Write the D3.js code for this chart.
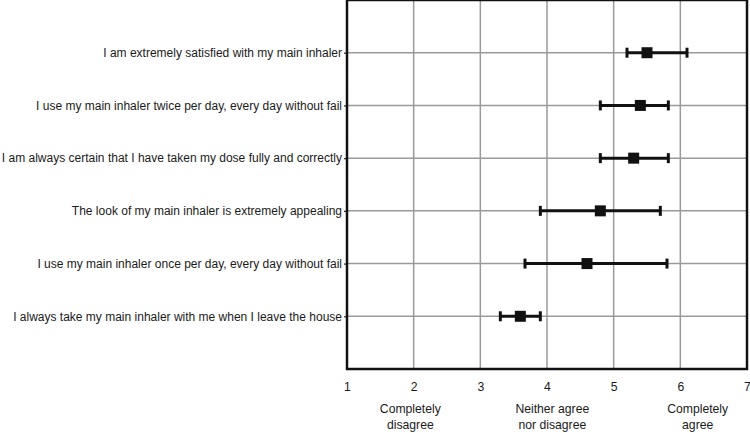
<!DOCTYPE html>
<html>
<head>
<meta charset="utf-8">
<script src="https://cdn.jsdelivr.net/npm/d3@7"></script>
<style>
  html, body { margin: 0; padding: 0; background: #fff; }
  svg { display: block; font-family: "Liberation Sans", Arial, sans-serif; }
</style>
</head>
<body>
<div id="chart"></div>
<script>
const width = 750;
const height = 433;
const margin = {top: 0, right: 3, bottom: 64, left: 347};

// statements, top to bottom
const statements = [
    "I am extremely satisfied with my main inhaler",
    "I use my main inhaler twice per day, every day without fail",
    "I am always certain that I have taken my dose fully and correctly",
    "The look of my main inhaler is extremely appealing",
    "I use my main inhaler once per day, every day without fail",
    "I always take my main inhaler with me when I leave the house"
];
const means = [5.5, 5.4, 5.3, 4.8, 4.6, 3.6];
const lower = [5.2, 4.8, 4.8, 3.9, 3.67, 3.3];
const upper = [6.1, 5.82, 5.82, 5.7, 5.8, 3.9];

const xTicks = [1, 2, 3, 4, 5, 6, 7];
const anchorLabels = [
    {value: 1.95, lines: ["Completely", "disagree"]},
    {value: 4.08, lines: ["Neither agree", "nor disagree"]},
    {value: 6.26, lines: ["Completely", "agree"]}
];

const rows = statements.map((s, i) => ({name: s, mean: means[i], lo: lower[i], hi: upper[i]}));

const x = d3.scaleLinear()
    .domain([1, 7])
    .range([margin.left, width - margin.right]);

const y = d3.scalePoint()
    .domain(statements)
    .range([margin.top, height - margin.bottom])
    .padding(1);

const svg = d3.select("#chart")
    .append("svg")
    .attr("width", width)
    .attr("height", height);

const bottom = height - margin.bottom;

// grid
svg.append("g")
    .attr("stroke", "#9a9a9a")
    .attr("stroke-width", 1.5)
    .selectAll("line")
    .data(xTicks.slice(1, -1))
    .join("line")
    .attr("x1", d => x(d)).attr("x2", d => x(d))
    .attr("y1", margin.top).attr("y2", bottom);

svg.append("g")
    .attr("stroke", "#9a9a9a")
    .attr("stroke-width", 1.5)
    .selectAll("line")
    .data(statements)
    .join("line")
    .attr("x1", margin.left).attr("x2", width - margin.right)
    .attr("y1", d => y(d)).attr("y2", d => y(d));

// y axis
svg.append("g")
    .attr("transform", `translate(${margin.left},0)`)
    .call(d3.axisLeft(y).tickSize(3).tickPadding(2))
    .call(g => g.select(".domain").remove())
    .call(g => g.selectAll(".tick line").attr("stroke", "#222").attr("stroke-width", 1.2))
    .call(g => g.selectAll(".tick text")
        .attr("font-size", 12)
        .attr("font-family", "Liberation Sans, Arial, sans-serif")
        .attr("fill", "#1a1a1a"));

// x axis
svg.append("g")
    .attr("transform", `translate(0,${bottom})`)
    .call(d3.axisBottom(x).tickValues(xTicks).tickFormat(d3.format("d")).tickSize(0).tickPadding(13))
    .call(g => g.select(".domain").remove())
    .call(g => g.selectAll(".tick text")
        .attr("font-size", 12.2)
        .attr("font-family", "Liberation Sans, Arial, sans-serif")
        .attr("fill", "#1a1a1a"));

// anchor labels
svg.append("g")
    .attr("font-size", 12.2)
    .attr("fill", "#1a1a1a")
    .attr("text-anchor", "middle")
    .selectAll("text")
    .data(anchorLabels)
    .join("text")
    .attr("y", bottom + 44)
    .selectAll("tspan")
    .data(d => d.lines.map(l => ({l, v: d.value})))
    .join("tspan")
    .attr("x", d => x(d.v))
    .attr("dy", (d, i) => i === 0 ? 0 : 16)
    .text(d => d.l);

// frame
svg.append("rect")
    .attr("x", margin.left)
    .attr("y", margin.top)
    .attr("width", width - margin.right - margin.left)
    .attr("height", bottom - margin.top)
    .attr("fill", "none")
    .attr("stroke", "#111")
    .attr("stroke-width", 2.5);

// error bars
const bars = svg.append("g")
    .attr("stroke", "#111")
    .attr("stroke-width", 3);

bars.selectAll("line.ci")
    .data(rows)
    .join("line")
    .attr("class", "ci")
    .attr("x1", d => x(d.lo)).attr("x2", d => x(d.hi))
    .attr("y1", d => y(d.name)).attr("y2", d => y(d.name));

bars.selectAll("line.capl")
    .data(rows)
    .join("line")
    .attr("class", "capl")
    .attr("x1", d => x(d.lo)).attr("x2", d => x(d.lo))
    .attr("y1", d => y(d.name) - 5).attr("y2", d => y(d.name) + 5);

bars.selectAll("line.caph")
    .data(rows)
    .join("line")
    .attr("class", "caph")
    .attr("x1", d => x(d.hi)).attr("x2", d => x(d.hi))
    .attr("y1", d => y(d.name) - 5).attr("y2", d => y(d.name) + 5);

svg.append("g")
    .attr("fill", "#111")
    .selectAll("rect")
    .data(rows)
    .join("rect")
    .attr("x", d => x(d.mean) - 5.5)
    .attr("y", d => y(d.name) - 5.5)
    .attr("width", 11)
    .attr("height", 11);
</script>
</body>
</html>
